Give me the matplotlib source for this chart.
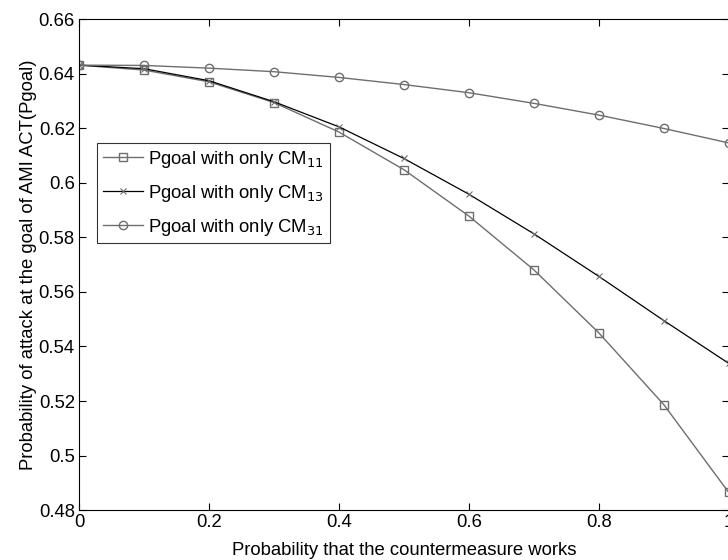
import numpy as np
import matplotlib
matplotlib.use("Agg")
import matplotlib.pyplot as plt

plt.rcParams['font.family'] = ['Liberation Sans', 'DejaVu Sans']

prob = [0.0, 0.1, 0.2, 0.3, 0.4, 0.5, 0.6, 0.7, 0.8, 0.9, 1.0]
pgoal_cm11 = [0.6431, 0.6413, 0.6370, 0.6294, 0.6186, 0.6048, 0.5878, 0.5681, 0.5450, 0.5187, 0.4865]
pgoal_cm13 = [0.6431, 0.6418, 0.6374, 0.6297, 0.6205, 0.6089, 0.5958, 0.5813, 0.5657, 0.5495, 0.5338]
pgoal_cm31 = [0.6431, 0.6430, 0.6420, 0.6407, 0.6386, 0.6360, 0.6330, 0.6291, 0.6248, 0.6199, 0.6146]

gray = '#6e6e6e'
fs = 13.3

fig = plt.figure(figsize=(7.28, 5.6), dpi=100)
ax = fig.add_axes([0.1085, 0.089, 0.8925, 0.877])

ax.plot(prob, pgoal_cm11, color=gray, lw=1.0, marker='s', ms=6, mfc='none', mec=gray,
        label='Pgoal with only CM$_{11}$')
ax.plot(prob, pgoal_cm13, color='black', lw=0.9, marker='x', ms=4, mew=0.8, mec=gray,
        label='Pgoal with only CM$_{13}$')
ax.plot(prob, pgoal_cm31, color=gray, lw=1.0, marker='o', ms=6, mfc='none', mec=gray,
        label='Pgoal with only CM$_{31}$')

ax.set_xlim(0, 1)
ax.set_ylim(0.48, 0.66)
ax.set_xticks([0, 0.2, 0.4, 0.6, 0.8, 1])
ax.set_xticklabels(['0', '0.2', '0.4', '0.6', '0.8', '1'])
ax.set_yticks(np.arange(0.48, 0.661, 0.02))
ax.set_yticklabels(['0.48', '0.5', '0.52', '0.54', '0.56', '0.58', '0.6', '0.62', '0.64', '0.66'])
ax.tick_params(direction='in', top=True, right=True, length=5, labelsize=fs, pad=3)

ax.set_xlabel('Probability that the countermeasure works', size=fs, labelpad=8)
ax.set_ylabel('Probability of attack at the goal of AMI ACT(Pgoal)', size=fs, labelpad=1)

leg = ax.legend(loc='upper left', bbox_to_anchor=(0.0277, 0.7475), fontsize=fs,
                frameon=True, fancybox=False, edgecolor='black', borderpad=0.3,
                handlelength=2.2, handletextpad=0.27, labelspacing=0.71, borderaxespad=0)
leg.get_frame().set_linewidth(0.8)

plt.savefig('out.png', dpi=100)
